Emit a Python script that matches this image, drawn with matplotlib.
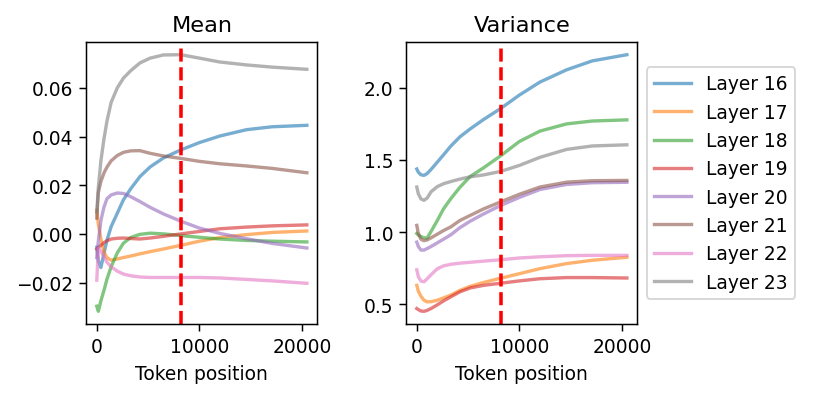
import matplotlib
matplotlib.use("Agg")
import matplotlib.pyplot as plt
import numpy as np

# token positions (shared by all curves)
tokens = [0, 150, 400, 700, 1000, 1400, 2000, 2600, 3300, 4200, 5200, 6500,
          8200, 10000, 12000, 14600, 17100, 20480]

layers = ["Layer 16", "Layer 17", "Layer 18", "Layer 19",
          "Layer 20", "Layer 21", "Layer 22", "Layer 23"]

# mean of each layer vs token position
mean_16 = [-0.0055, -0.011, -0.0138, -0.008, -0.0025, 0.003, 0.0085, 0.014, 0.0185, 0.0235, 0.0275, 0.0312, 0.0345, 0.0375, 0.0402, 0.0428, 0.0440, 0.0446]
mean_17 = [0.0097, 0.004, -0.002, -0.0075, -0.0098, -0.0108, -0.0103, -0.0097, -0.0091, -0.0082, -0.0073, -0.0062, -0.0047, -0.0030, -0.0015, -0.0003, 0.0006, 0.0012]
mean_18 = [-0.0297, -0.0318, -0.0275, -0.0232, -0.0185, -0.0135, -0.0078, -0.0038, -0.0015, -0.0002, 0.0003, 0.0, -0.0007, -0.0014, -0.0021, -0.0027, -0.0030, -0.0033]
mean_19 = [-0.0062, -0.0055, -0.0047, -0.0036, -0.0028, -0.0021, -0.0018, -0.0017, -0.0019, -0.0021, -0.0017, -0.0010, 0.0, 0.0010, 0.0021, 0.0028, 0.0033, 0.0037]
mean_20 = [-0.0097, -0.003, 0.0055, 0.011, 0.0145, 0.016, 0.0168, 0.0166, 0.0153, 0.0133, 0.0109, 0.0082, 0.0052, 0.0024, 0.0002, -0.0020, -0.0039, -0.0058]
mean_21 = [0.0065, 0.017, 0.0215, 0.025, 0.0275, 0.030, 0.0322, 0.0335, 0.0341, 0.0342, 0.0331, 0.0320, 0.0310, 0.0298, 0.0288, 0.0279, 0.0269, 0.0251]
mean_22 = [-0.0190, -0.0060, -0.0070, -0.0095, -0.0117, -0.0135, -0.0153, -0.0165, -0.0172, -0.0177, -0.0179, -0.0179, -0.0179, -0.0179, -0.0181, -0.0187, -0.0193, -0.0203]
mean_23 = [0.009, 0.019, 0.030, 0.039, 0.0465, 0.054, 0.060, 0.064, 0.067, 0.0702, 0.0722, 0.0735, 0.0736, 0.0722, 0.0706, 0.0694, 0.0685, 0.0676]

# variance of each layer vs token position
var_16 = [1.437, 1.415, 1.397, 1.393, 1.405, 1.435, 1.485, 1.535, 1.595, 1.66, 1.715, 1.78, 1.858, 1.95, 2.04, 2.125, 2.187, 2.23]
var_17 = [0.63, 0.59, 0.555, 0.527, 0.516, 0.517, 0.527, 0.543, 0.562, 0.595, 0.623, 0.65, 0.68, 0.711, 0.746, 0.781, 0.804, 0.825]
var_18 = [0.99, 0.98, 0.968, 0.96, 0.958, 1.005, 1.08, 1.16, 1.23, 1.31, 1.385, 1.445, 1.53, 1.628, 1.70, 1.75, 1.77, 1.778]
var_19 = [0.469, 0.462, 0.452, 0.45, 0.456, 0.47, 0.495, 0.522, 0.55, 0.585, 0.612, 0.63, 0.645, 0.661, 0.676, 0.684, 0.684, 0.681]
var_20 = [0.93, 0.90, 0.875, 0.875, 0.885, 0.90, 0.925, 0.95, 0.98, 1.03, 1.075, 1.125, 1.185, 1.24, 1.295, 1.33, 1.342, 1.345]
var_21 = [1.046, 0.99, 0.95, 0.94, 0.945, 0.96, 0.985, 1.01, 1.035, 1.08, 1.115, 1.16, 1.21, 1.262, 1.312, 1.346, 1.356, 1.358]
var_22 = [0.738, 0.69, 0.66, 0.655, 0.675, 0.705, 0.745, 0.765, 0.776, 0.784, 0.79, 0.798, 0.808, 0.82, 0.828, 0.836, 0.838, 0.838]
var_23 = [1.312, 1.265, 1.23, 1.22, 1.235, 1.28, 1.315, 1.335, 1.35, 1.367, 1.383, 1.396, 1.421, 1.462, 1.518, 1.573, 1.597, 1.605]

means = [mean_16, mean_17, mean_18, mean_19, mean_20, mean_21, mean_22, mean_23]
variances = [var_16, var_17, var_18, var_19, var_20, var_21, var_22, var_23]

context_len = 8192

dpi = 134
fig, (ax1, ax2) = plt.subplots(1, 2, figsize=(814/dpi, 397/dpi), dpi=dpi)
fig.subplots_adjust(left=0.106, right=0.783, bottom=0.181, top=0.892, wspace=0.385)

for name, m, v in zip(layers, means, variances):
    ax1.plot(tokens, m, alpha=0.6, lw=1.8, label=name)
    ax2.plot(tokens, v, alpha=0.6, lw=1.8, label=name)

for ax in (ax1, ax2):
    ax.axvline(context_len, color="red", linestyle="--", lw=1.9)
    ax.set_xlabel("Token position")

ax1.set_title("Mean")
ax2.set_title("Variance")
ax2.legend(loc="center left", bbox_to_anchor=(1, 0.5))

fig.savefig("out.png", dpi=dpi)
